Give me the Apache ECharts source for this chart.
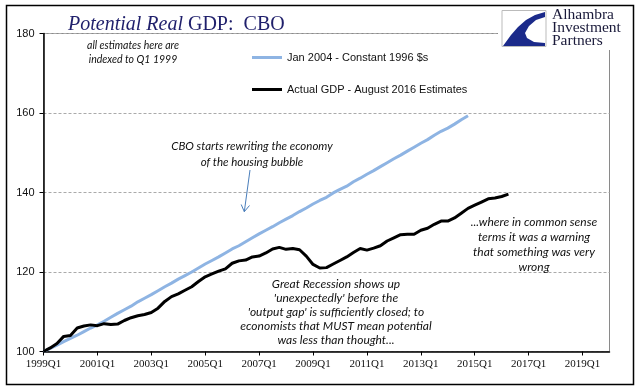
<!DOCTYPE html>
<html>
<head>
<meta charset="utf-8">
<script src="https://cdn.jsdelivr.net/npm/echarts@6/dist/echarts.min.js"></script>
<style>html,body{margin:0;padding:0;background:#fff;}#c{width:641px;height:392px;}</style>
</head>
<body>
<div id="c"></div>
<script>
const categories = [
'1999Q1','1999Q2','1999Q3','1999Q4','2000Q1','2000Q2','2000Q3','2000Q4',
'2001Q1','2001Q2','2001Q3','2001Q4','2002Q1','2002Q2','2002Q3','2002Q4',
'2003Q1','2003Q2','2003Q3','2003Q4','2004Q1','2004Q2','2004Q3','2004Q4',
'2005Q1','2005Q2','2005Q3','2005Q4','2006Q1','2006Q2','2006Q3','2006Q4',
'2007Q1','2007Q2','2007Q3','2007Q4','2008Q1','2008Q2','2008Q3','2008Q4',
'2009Q1','2009Q2','2009Q3','2009Q4','2010Q1','2010Q2','2010Q3','2010Q4',
'2011Q1','2011Q2','2011Q3','2011Q4','2012Q1','2012Q2','2012Q3','2012Q4',
'2013Q1','2013Q2','2013Q3','2013Q4','2014Q1','2014Q2','2014Q3','2014Q4',
'2015Q1','2015Q2','2015Q3','2015Q4','2016Q1','2016Q2','2016Q3','2016Q4',
'2017Q1','2017Q2','2017Q3','2017Q4','2018Q1','2018Q2','2018Q3','2018Q4',
'2019Q1','2019Q2','2019Q3','2019Q4','2020Q1'];

// CBO Jan 2004 potential GDP (constant 1996 $), indexed 1999Q1 = 100
const cbo2004 = [
100.0,100.8,101.6,102.5,103.3,104.1,105.0,105.9,
106.7,107.6,108.6,109.6,110.5,111.4,112.5,113.4,
114.3,115.3,116.3,117.2,118.2,119.1,120.0,121.0,
122.0,122.9,123.8,124.8,125.8,126.6,127.6,128.6,
129.6,130.5,131.4,132.4,133.3,134.2,135.2,136.1,
137.1,138.0,138.8,139.9,140.8,141.6,142.7,143.6,
144.6,145.5,146.5,147.5,148.5,149.4,150.4,151.4,
152.4,153.3,154.4,155.4,156.2,157.2,158.3,159.3];

// Actual real GDP, August 2016 estimates, indexed 1999Q1 = 100
const actualGdp = [
100.0,100.9,102.0,103.8,104.0,105.9,106.4,106.7,
106.5,107.0,106.8,106.9,107.8,108.5,109.0,109.3,
109.8,110.9,112.6,113.8,114.5,115.4,116.3,117.6,
118.8,119.5,120.2,120.8,122.2,122.8,123.0,123.8,
124.0,124.8,125.8,126.2,125.7,125.9,125.6,124.0,
121.9,121.0,121.1,122.0,122.9,123.8,124.9,125.9,
125.5,126.0,126.6,127.8,128.6,129.4,129.5,129.5,
130.5,131.0,132.0,132.8,132.8,133.6,134.8,136.0,
136.8,137.6,138.4,138.6,139.0,139.6];

const seriesNames = ['Jan 2004 - Constant 1996 $s', 'Actual GDP - August 2016 Estimates'];
const yTicks = [100, 120, 140, 160, 180];

const chart = echarts.init(document.getElementById('c'));
const navy = '#1F1F6B';
chart.setOption({
  animation: false,
  backgroundColor: '#fff',
  title: {
    text: '{a|Potential Real} {b|GDP:  CBO}',
    left: 63, top: 10,
    textStyle: {
      fontWeight: 'normal',
      rich: {
        a: {fontFamily: 'Liberation Serif', fontStyle: 'italic', fontWeight: 'normal', fontSize: 20, color: navy},
        b: {fontFamily: 'Liberation Serif', fontWeight: 'normal', fontSize: 20, color: navy}
      }
    }
  },
  legend: {
    orient: 'vertical', left: 252, top: 51, padding: 0, itemWidth: 30, itemHeight: 3, itemGap: 19,
    icon: 'rect',
    textStyle: {fontFamily: 'Liberation Sans', fontSize: 11, color: '#111', lineHeight: 13},
    data: seriesNames
  },
  grid: {left: 43.5, right: 31.5, top: 33.5, bottom: 40.5, show: true, borderColor: '#8a8a8a', borderWidth: 1},
  xAxis: {
    type: 'category', data: categories, boundaryGap: false,
    axisLine: {lineStyle: {color: '#000', width: 1.5}},
    axisTick: {interval: 7, length: 4, lineStyle: {color: '#000'}},
    axisLabel: {interval: 7, margin: 7, fontFamily: 'Liberation Serif', fontSize: 11, color: '#111'},
    splitLine: {show: false}
  },
  yAxis: {
    type: 'value', min: yTicks[0], max: yTicks[yTicks.length-1], interval: 20,
    axisLine: {show: true, lineStyle: {color: '#000', width: 1.5}},
    axisTick: {show: true, length: 4, lineStyle: {color: '#000'}},
    axisLabel: {margin: 9, fontFamily: 'Liberation Sans', fontSize: 11, color: '#111'},
    splitLine: {show: true, lineStyle: {color: '#aaa', type: [3, 2], width: 1}}
  },
  series: [
    {name: seriesNames[0], type: 'line', data: cbo2004, symbol: 'none', showSymbol: false,
     lineStyle: {color: '#8EB4E3', width: 3}, itemStyle: {color: '#8EB4E3'}},
    {name: seriesNames[1], type: 'line', data: actualGdp, symbol: 'none', showSymbol: false,
     lineStyle: {color: '#000', width: 3}, itemStyle: {color: '#000'}}
  ],
  graphic: [
    {type: 'rect', z: 100, silent: true, shape: {x: 6.5, y: 5.5, width: 627, height: 379},
     style: {fill: 'none', stroke: '#000', lineWidth: 1.5}},
    {type: 'rect', z: 90, silent: true, shape: {x: 498, y: 7, width: 134, height: 43},
     style: {fill: '#fff'}},
    {type: 'rect', z: 91, silent: true, shape: {x: 502, y: 10.5, width: 44, height: 36},
     style: {fill: '#fff', stroke: '#bbb', lineWidth: 1}},
    {type: 'polygon', z: 92, silent: true,
     shape: {points: [[545,12],[535,15],[526,20],[518,27],[511,35],[503,46],[545,46],[545,43],[534,42],[527,38],[525,33],[529,26],[536,20],[545,17]]},
     style: {fill: '#1B2A8A'}},
    {type: 'text', z: 92, silent: true, left: 552, top: 7,
     style: {text: 'Alhambra\nInvestment\nPartners', font: '15.5px Liberation Serif', lineHeight: 13, fill: '#1a1a3a'}},
    {type: 'text', silent: true, x: 133, y: 53, z: 50,
     style: {text: 'all estimates here are\nindexed to Q1 1999', font: 'italic 10.5px Lato', fill: '#111', align: 'center', verticalAlign: 'middle', lineHeight: 14}},
    {type: 'text', silent: true, x: 252, y: 154, z: 50,
     style: {text: 'CBO starts rewriting the economy\nof the housing bubble', font: 'italic 11.5px Lato', fill: '#111', align: 'center', verticalAlign: 'middle', lineHeight: 16}},
    {type: 'line', silent: true, z: 50, shape: {x1: 250, y1: 170, x2: 244.3, y2: 211.7}, style: {stroke: '#4A7EBB', lineWidth: 1}},
    {type: 'polyline', silent: true, z: 50, shape: {points: [[241.2, 204.5], [244.3, 211.7], [249.5, 205.5]]}, style: {stroke: '#4A7EBB', lineWidth: 1, fill: 'none'}},
    {type: 'text', silent: true, x: 534, y: 245, z: 50,
     style: {text: '...where in common sense\nterms it was a warning\nthat something was very\nwrong', font: 'italic 12px Lato', fill: '#111', align: 'center', verticalAlign: 'middle', lineHeight: 15}},
    {type: 'text', silent: true, x: 336, y: 312, z: 50,
     style: {text: "Great Recession shows up\n'unexpectedly' before the\n'output gap' is sufficiently closed; to\neconomists that MUST mean potential\nwas less than thought...", font: 'italic 12px Lato', fill: '#111', align: 'center', verticalAlign: 'middle', lineHeight: 14}}
  ]
});
</script>
</body>
</html>
